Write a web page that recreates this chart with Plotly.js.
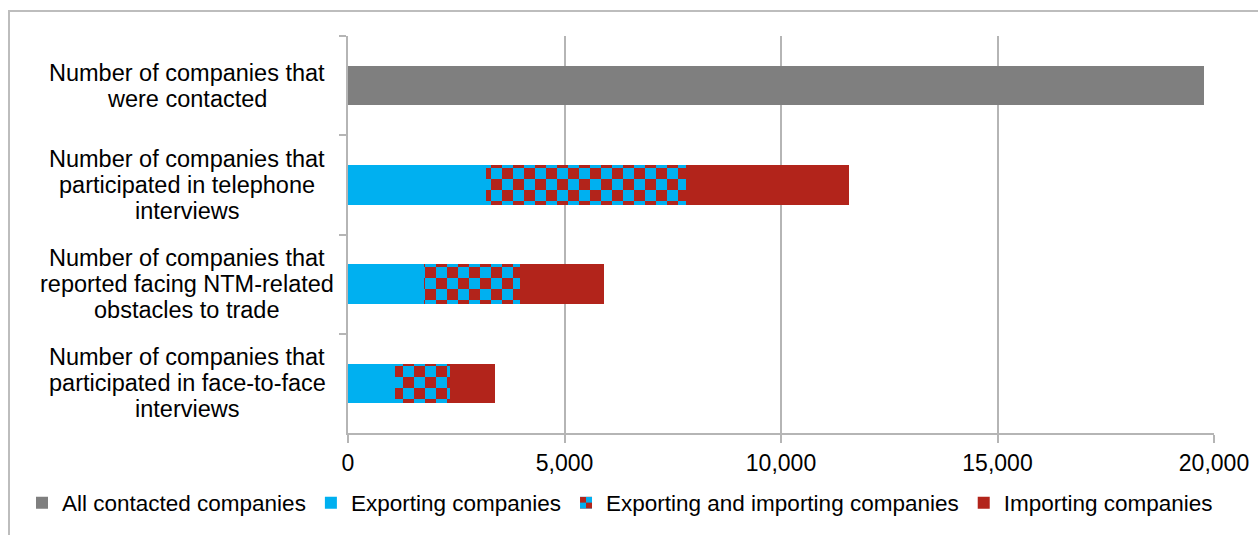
<!DOCTYPE html>
<html>
<head>
<meta charset="utf-8">
<script src="https://cdn.plot.ly/plotly-3.0.1.min.js"></script>
<style>
  html, body { margin: 0; padding: 0; background: #ffffff; }
  #wrap { position: relative; width: 1258px; height: 535px; overflow: hidden; }
  #chart { position: absolute; left: 0; top: 0; width: 1258px; height: 535px; }
  #frame { position: absolute; left: 8px; top: 10px; width: 1300px; height: 600px;
           border-top: 2px solid #bdbdbd; border-left: 2px solid #bdbdbd; pointer-events: none; }
</style>
</head>
<body>
<div id="wrap">
  <div id="chart"></div>
  <div id="frame"></div>
</div>
<script>
// ---- data ----
var categories = [
  "Number of companies that<br>were contacted",
  "Number of companies that<br>participated in telephone<br>interviews",
  "Number of companies that<br>reported facing NTM-related<br>obstacles to trade",
  "Number of companies that<br>participated in face-to-face<br>interviews"
];
var seriesNames = [
  "All contacted companies",
  "Exporting companies",
  "Exporting and importing companies",
  "Importing companies"
];
var allContacted = [19780, null, null, null];
var exporting = [null, 3190, 1750, 1090];
var exportingImporting = [null, 4610, 2220, 1255];
var importing = [null, 3775, 1935, 1040];
var xTickValues = [0, 5000, 10000, 15000, 20000];

// ---- styles ----
var FONT = "Liberation Sans, Arial, Helvetica, sans-serif";
var GREY = "#7f7f7f", BLUE = "#00b0f0", RED = "#b2241b", AXIS = "#b5b5b5";

function barTrace(name, values, marker) {
  return {
    type: "bar", orientation: "h", name: name,
    y: categories, x: values, marker: marker,
    hoverinfo: "x+name"
  };
}

var data = [
  barTrace(seriesNames[0], allContacted, { color: GREY, line: { width: 0 } }),
  barTrace(seriesNames[1], exporting, { color: BLUE, line: { width: 0 } }),
  barTrace(seriesNames[2], exportingImporting, {
    color: BLUE, line: { width: 0 },
    pattern: { shape: "+", bgcolor: BLUE, fgcolor: RED, size: 22, solidity: 0.5, fillmode: "replace" }
  }),
  barTrace(seriesNames[3], importing, { color: RED, line: { width: 0 } })
];

// category labels as centred multi-line annotations
var annotations = [];
var LINE_H = 26;
categories.forEach(function (c) {
  var lines = c.split("<br>");
  var n = lines.length;
  lines.forEach(function (ln, i) {
    annotations.push({
      xref: "paper", yref: "y", x: (187 - 348) / 866, y: c,
      xanchor: "center", yanchor: "middle", showarrow: false,
      yshift: ((n - 1) / 2 - i) * LINE_H,
      text: ln, font: { family: FONT, size: 23.5, color: "#000000" }
    });
  });
});

var layout = {
  width: 1258, height: 535,
  margin: { l: 348, r: 44, t: 36, b: 101, pad: 0 },
  paper_bgcolor: "rgba(0,0,0,0)", plot_bgcolor: "rgba(0,0,0,0)",
  barmode: "stack", bargap: 0.6,
  font: { family: FONT, size: 22, color: "#000000" },
  showlegend: true,
  legend: {
    orientation: "h", xref: "paper", yref: "paper",
    x: (22 - 348) / 866, y: (434 - 503) / 398, xanchor: "left", yanchor: "middle",
    font: { family: FONT, size: 22.5, color: "#000000" },
    traceorder: "normal", itemclick: false, bgcolor: "rgba(0,0,0,0)"
  },
  xaxis: {
    range: [0, 20000], tickvals: xTickValues, tickformat: ",",
    showgrid: true, gridcolor: AXIS, gridwidth: 2,
    zeroline: false, showline: true, linecolor: AXIS, linewidth: 2,
    ticks: "outside", ticklen: 8, tickwidth: 2, tickcolor: AXIS,
    tickfont: { family: FONT, size: 23, color: "#000000" }, fixedrange: true
  },
  yaxis: {
    type: "category", categoryorder: "array", categoryarray: categories,
    autorange: "reversed", showticklabels: false, showgrid: false,
    zeroline: false, showline: true, linecolor: AXIS, linewidth: 2,
    ticks: "outside", tickson: "boundaries", ticklen: 7, tickwidth: 2, tickcolor: AXIS,
    fixedrange: true
  },
  annotations: annotations
};

var gd = document.getElementById("chart");

// turn the pattern fill of the mixed series into a checkerboard
function checkerboard() {
  var NS = "http://www.w3.org/2000/svg";
  var pats = gd.querySelectorAll("pattern");
  pats.forEach(function (p) {
    if (p.getAttribute("data-checker")) return;
    var isLegend = /legend/i.test(p.id) || p.closest(".legend");
    var s = isLegend ? 6 : 11;
    while (p.firstChild) p.removeChild(p.firstChild);
    p.setAttribute("patternUnits", "userSpaceOnUse");
    p.setAttribute("width", 2 * s);
    p.setAttribute("height", 2 * s);
    p.removeAttribute("patternTransform");
    p.removeAttribute("viewBox");
    var rects = [
      [0, 0, 2 * s, 2 * s, BLUE],
      [0, 0, s, s, RED],
      [s, s, s, s, RED]
    ];
    rects.forEach(function (r) {
      var el = document.createElementNS(NS, "rect");
      el.setAttribute("x", r[0]); el.setAttribute("y", r[1]);
      el.setAttribute("width", r[2]); el.setAttribute("height", r[3]);
      el.setAttribute("fill", r[4]);
      p.appendChild(el);
    });
    p.setAttribute("data-checker", "1");
  });
}

Plotly.newPlot(gd, data, layout, { displayModeBar: false, staticPlot: false, responsive: false })
  .then(function () {
    checkerboard();
    gd.on("plotly_afterplot", checkerboard);
  });
</script>
</body>
</html>
